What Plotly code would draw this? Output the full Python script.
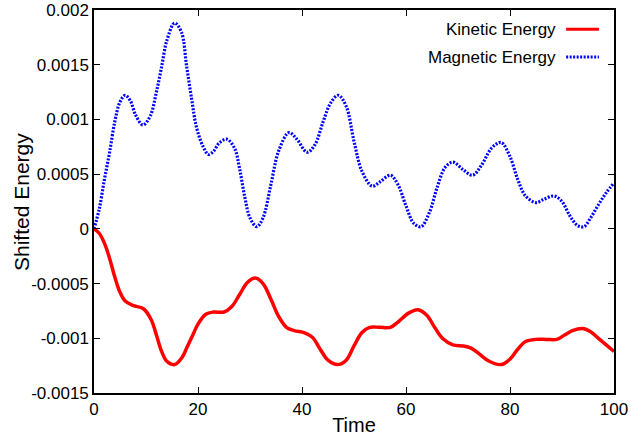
import plotly.graph_objects as go

# Magnetic energy (blue dotted)
mag_t = [0, 1, 2, 3, 4, 5, 6, 7, 8, 9.4, 10.8, 12, 13, 14, 15.5, 16.8, 17.8, 18.8, 19.7, 21, 22, 23, 24, 25.5,
         27, 28, 29, 30, 31.3, 32.5, 34, 35.5, 37.5, 39, 41, 42.5, 44, 45.5, 47, 48.5, 50, 51.5, 53.5,
         55, 57, 58.5, 60, 61.5, 62.9, 64.5, 66, 67.5, 69, 71, 72.8, 74.5, 76.5, 78.3, 80, 81.5,
         83, 85, 86.5, 88.5, 90, 91.5, 93, 94.2, 95.5, 97, 98.5, 100]
mag_e = [0, 0.00018, 0.00045, 0.0007, 0.00098, 0.00116, 0.00122, 0.00117, 0.00104, 0.00095, 0.00103, 0.00125,
         0.00148, 0.00172, 0.00188, 0.0018, 0.00149, 0.00118, 0.00093, 0.00075, 0.00068, 0.00071, 0.00078, 0.00082,
         0.00074, 0.00055, 0.00029, 0.0001, 0.00002, 0.0001, 0.0004, 0.00071, 0.00088, 0.00082, 0.0007, 0.00077,
         0.00097, 0.00115, 0.00122, 0.00112, 0.0008, 0.00053, 0.00039, 0.00043, 0.00049, 0.0004, 0.00021, 0.00005,
         0.00002, 0.00015, 0.00038, 0.00056, 0.00061, 0.00054, 0.00049, 0.00058, 0.00074, 0.00079, 0.00066, 0.00045,
         0.0003, 0.00024, 0.00027, 0.0003, 0.00025, 0.00012, 0.00003, 0.00002, 0.0001, 0.00022, 0.00033, 0.00042]

# Kinetic energy (red solid)
kin_t = [0, 1, 2, 3, 4, 5, 6, 7.5, 9.5, 11, 12, 13, 14, 15.5, 17, 18, 19, 20, 21.5, 23, 25, 26.5, 28, 29.5,
         31, 32.5, 34, 35.5, 37, 38.5, 40.5, 42, 43.5, 45, 46.8, 48.5, 50, 51.5, 53, 55, 57, 58.5, 60.5,
         62.3, 64, 65.5, 67, 69, 71, 72.5, 74, 76, 78.3, 80, 81.5, 83, 85, 87, 89, 90.5, 92, 94, 95.5,
         97, 98.5, 100]
kin_e = [0, -0.00004, -0.00013, -0.00027, -0.00044, -0.00058, -0.00066, -0.0007, -0.00073, -0.00083,
         -0.00097, -0.00112, -0.00121, -0.00124, -0.00117, -0.00107, -0.00097, -0.00087, -0.00078, -0.00076,
         -0.00076, -0.00071, -0.0006, -0.00049, -0.00045, -0.0005, -0.00064, -0.0008, -0.0009, -0.00093,
         -0.00095, -0.00099, -0.0011, -0.0012, -0.00124, -0.0012, -0.00107, -0.00095, -0.0009, -0.0009,
         -0.0009, -0.00085, -0.00077, -0.00074, -0.00079, -0.0009, -0.001, -0.00106, -0.00107, -0.00109,
         -0.00114, -0.00121, -0.00124, -0.00119, -0.0011, -0.00103, -0.00101, -0.00101, -0.00101, -0.00097,
         -0.00093, -0.00091, -0.00094, -0.001, -0.00106, -0.00112]

x_ticks = [0, 20, 40, 60, 80, 100]
y_ticks = [-0.0015, -0.001, -0.0005, 0, 0.0005, 0.001, 0.0015, 0.002]
y_labels = ["-0.0015", "-0.001", "-0.0005", "0", "0.0005", "0.001", "0.0015", "0.002"]

series_names = ["Kinetic Energy", "Magnetic Energy"]
x_title = "Time"
y_title = "Shifted Energy"
RED = "#ff0000"
BLUE = "#0000ff"
FONT = "Liberation Sans, Arial, sans-serif"
DOT = "2px,1.5px"

fig = go.Figure()
fig.add_trace(go.Scatter(x=kin_t, y=kin_e, mode="lines", name=series_names[0],
                         line=dict(color=RED, width=3.5, shape="spline", smoothing=1.0)))
fig.add_trace(go.Scatter(x=mag_t, y=mag_e, mode="lines", name=series_names[1],
                         line=dict(color=BLUE, width=3.2, dash=DOT, shape="spline", smoothing=1.0)))

axis_common = dict(showline=True, linecolor="black", linewidth=1.5, mirror="ticks",
                   ticks="inside", ticklen=6, tickwidth=1, tickcolor="black",
                   showgrid=False, zeroline=False, automargin=False,
                   tickfont=dict(family=FONT, size=17, color="black"))

fig.update_xaxes(range=[0, 100], tickvals=x_ticks, ticktext=[str(v) for v in x_ticks],
                 title=dict(text=x_title, font=dict(family=FONT, size=20, color="black"), standoff=3),
                 **axis_common)
fig.update_yaxes(range=[-0.0015, 0.002], tickvals=y_ticks, ticktext=y_labels, **axis_common)

# y-axis title placed close to the tick labels, as in the original
fig.add_annotation(xref="paper", yref="paper", x=-0.1135, y=0.5, text=y_title, showarrow=False,
                   textangle=-90, xanchor="right", yanchor="middle",
                   font=dict(family=FONT, size=21, color="black"))

# legend (gnuplot style: text right-aligned, sample on the right)
leg_y = [0.950, 0.877]
leg_colors = [RED, BLUE]
leg_dash = ["solid", DOT]
for name, yy, c, d in zip(series_names, leg_y, leg_colors, leg_dash):
    fig.add_annotation(xref="paper", yref="paper", x=0.893, y=yy, text=name, showarrow=False,
                       xanchor="right", yanchor="middle",
                       font=dict(family=FONT, size=17, color="black"))
    fig.add_shape(type="line", xref="paper", yref="paper", x0=0.908, x1=0.971, y0=yy, y1=yy,
                  line=dict(color=c, width=3, dash=d))

fig.update_layout(width=631, height=436, showlegend=False,
                  margin=dict(l=94, r=17, t=10, b=43),
                  paper_bgcolor="white", plot_bgcolor="white",
                  font=dict(family=FONT, color="black"))

fig.write_html("out.html")
